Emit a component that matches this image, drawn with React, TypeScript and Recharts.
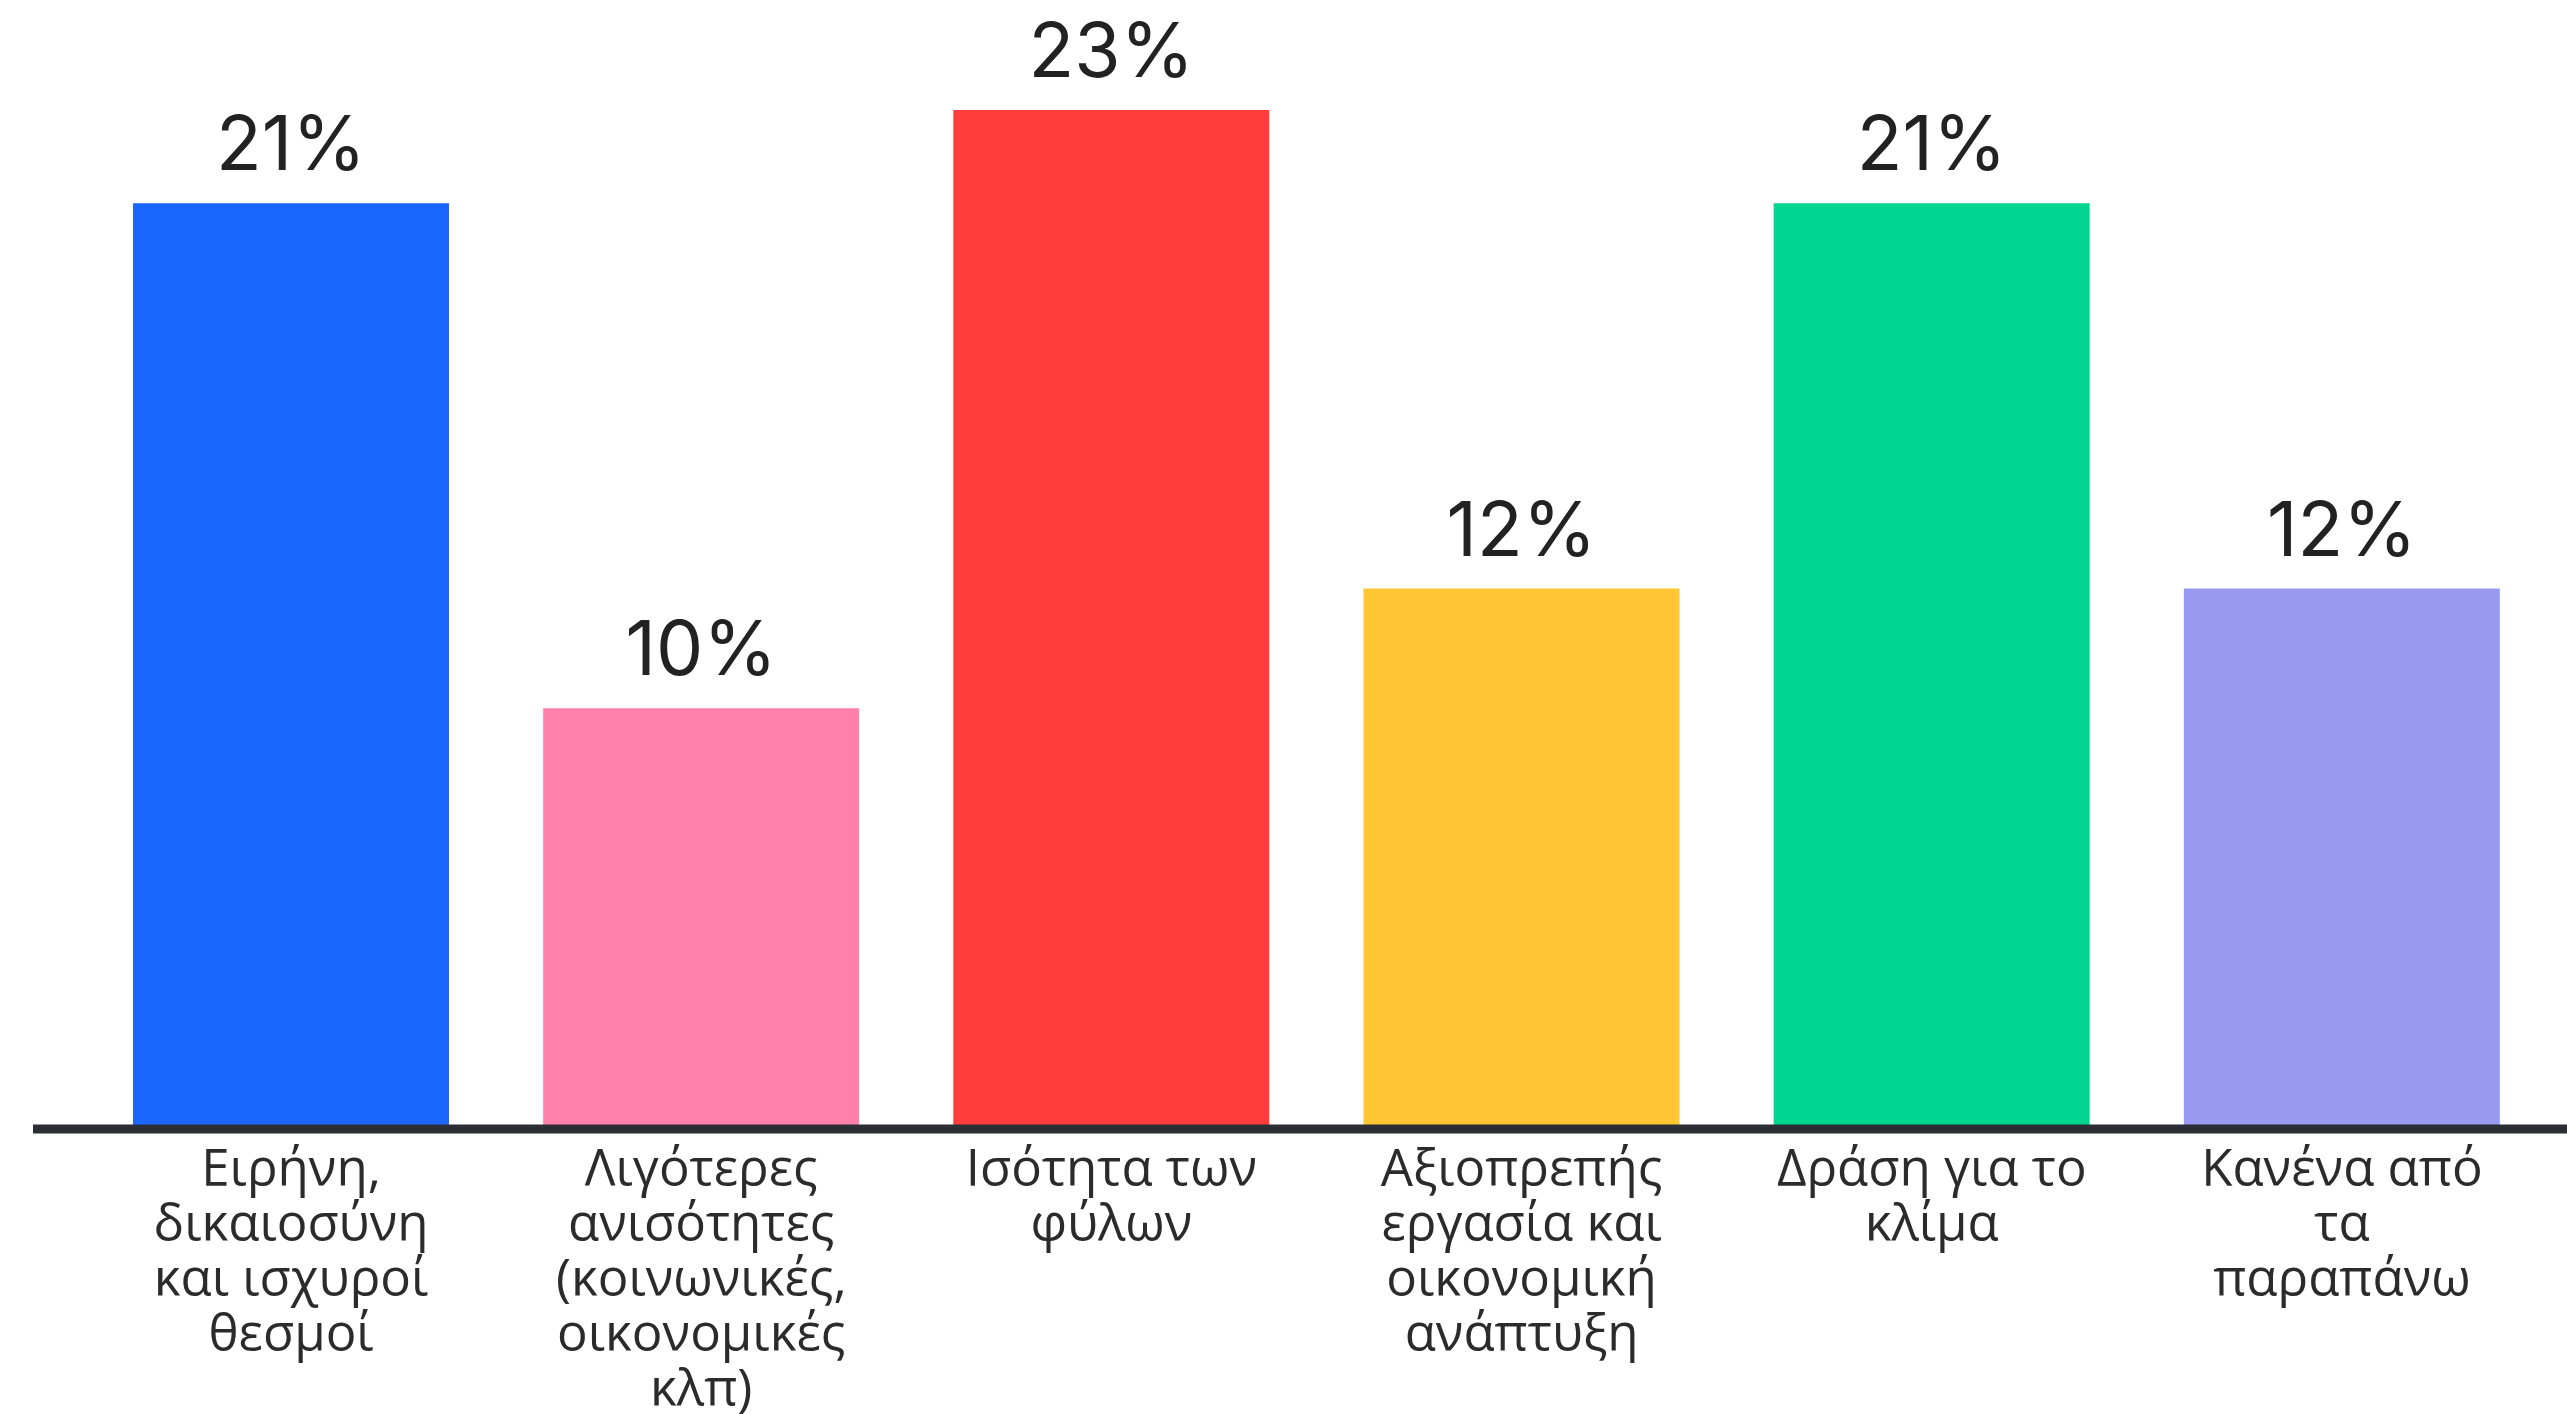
import React from "react";
import { Bar, BarChart, Cell, LabelList, XAxis, YAxis } from "recharts";

// Categories (Greek goal names) and the lines each tick label wraps into
const categories = [
  "Ειρήνη, δικαιοσύνη και ισχυροί θεσμοί",
  "Λιγότερες ανισότητες (κοινωνικές, οικονομικές κλπ)",
  "Ισότητα των φύλων",
  "Αξιοπρεπής εργασία και οικονομική ανάπτυξη",
  "Δράση για το κλίμα",
  "Κανένα από τα παραπάνω",
];

const tickLines = [
  ["Ειρήνη,", "δικαιοσύνη", "και ισχυροί", "θεσμοί"],
  ["Λιγότερες", "ανισότητες", "(κοινωνικές,", "οικονομικές", "κλπ)"],
  ["Ισότητα των", "φύλων"],
  ["Αξιοπρεπής", "εργασία και", "οικονομική", "ανάπτυξη"],
  ["Δράση για το", "κλίμα"],
  ["Κανένα από", "τα", "παραπάνω"],
];

// bar heights (labels are rounded)
const shares = [20.9, 9.5, 23, 12.2, 20.9, 12.2];

const colors = ["#1a66ff", "#ff80ab", "#ff3d3d", "#ffc533", "#00d68f", "#9999f2"];

const data = categories.map((name, i) => ({ name, value: shares[i] }));

function WrappedTick({ x, y, payload }: any) {
  const lines = tickLines[payload.index] || [payload.value];
  return (
    <text
      x={x}
      y={y}
      textAnchor="middle"
      fill="#2b2b2b"
      fontSize={51}
      fontFamily="'Open Sans', 'Noto Sans', sans-serif"
    >
      {lines.map((l: string, i: number) => (
        <tspan key={i} x={x} dy={i === 0 ? 57 : 55}>
          {l}
        </tspan>
      ))}
    </text>
  );
}

export default function App() {
  return (
    <div style={{ position: "absolute", left: 0, top: 0, background: "#fff" }}>
      <BarChart
        width={2567}
        height={1414}
        data={data}
        margin={{ top: 21.5, right: 0, left: 33, bottom: 0 }}
      >
        <YAxis hide domain={[0, 25]} />
        <XAxis
          dataKey="name"
          height={285}
          padding={{ left: 53, right: 20 }}
          axisLine={{ stroke: "#2b2e35", strokeWidth: 9 }}
          tickLine={false}
          tickSize={0}
          tickMargin={0}
          interval={0}
          tick={<WrappedTick />}
        />
        <Bar dataKey="value" barSize={316} isAnimationActive={false}>
          {data.map((d, i) => (
            <Cell key={d.name} fill={colors[i]} />
          ))}
          <LabelList
            dataKey="value"
            position="top"
            offset={33}
            formatter={(v: any) => `${Math.round(v)}%`}
            style={{
              fill: "#222",
              fontSize: 75,
              fontFamily: "Inter, 'Noto Sans', sans-serif",
            }}
          />
        </Bar>
      </BarChart>
    </div>
  );
}
